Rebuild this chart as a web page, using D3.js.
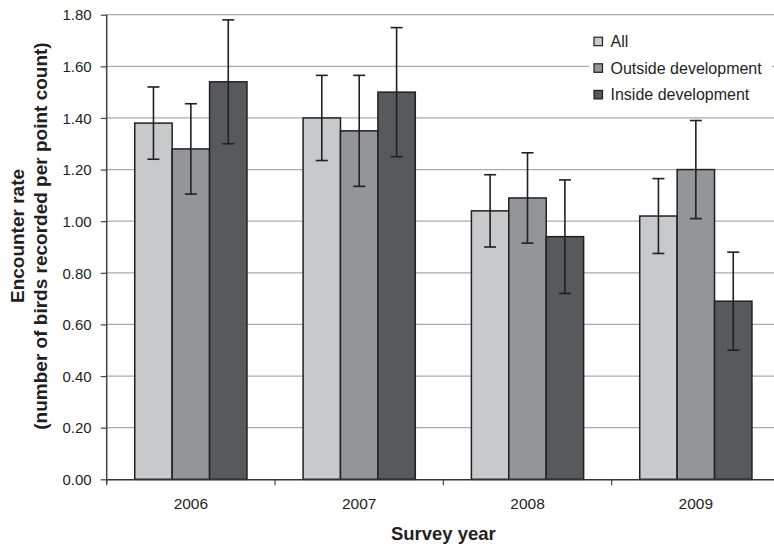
<!DOCTYPE html>
<html><head><meta charset="utf-8">
<script src="https://cdn.jsdelivr.net/npm/d3@7"></script>
<style>
html,body{margin:0;padding:0;background:#fff;}
svg{display:block;font-family:"Liberation Sans",Arial,sans-serif;}
</style></head>
<body>
<svg id="chart" width="774" height="549"></svg>
<script>
const years = ["2006","2007","2008","2009"];
const seriesNames = ["All","Outside development","Inside development"];
const allValues = [1.38,1.40,1.04,1.02];
const outsideValues = [1.28,1.35,1.09,1.20];
const insideValues = [1.54,1.50,0.94,0.69];
const allErrors = [0.14,0.165,0.14,0.145];
const outsideErrors = [0.175,0.215,0.175,0.19];
const insideErrors = [0.24,0.25,0.22,0.19];
const yTicks = [0,0.2,0.4,0.6,0.8,1.0,1.2,1.4,1.6,1.8];
const colors = ["#c8c9cb","#939598","#58595b"];

const valuesBySeries = [allValues, outsideValues, insideValues];
const errorsBySeries = [allErrors, outsideErrors, insideErrors];
const rows = [];
years.forEach((yr,i)=>seriesNames.forEach((s,j)=>rows.push({year:yr,series:s,idx:j,value:valuesBySeries[j][i],err:errorsBySeries[j][i]})));

const svg = d3.select("#chart");
const pLeft = 106.7, pRight = 780, pTop = 14.7, pBottom = 479.3;
const ink = "#231f20";

const x = d3.scaleBand().domain(years).range([pLeft,pRight]).paddingInner(0).paddingOuter(0);
const xs = d3.scaleBand().domain(seriesNames).range([0,x.bandwidth()]).paddingInner(0).paddingOuter(0.75);
const y = d3.scaleLinear().domain([0,1.8]).range([pBottom,pTop]);

// gridlines
svg.append("g").selectAll("line").data(yTicks.filter(d=>d>0)).join("line")
  .attr("x1",pLeft).attr("x2",774).attr("y1",d=>y(d)).attr("y2",d=>y(d))
  .attr("stroke","#aaaaaa").attr("stroke-width",1.2);

// bars
svg.append("g").selectAll("rect").data(rows).join("rect")
  .attr("x",d=>x(d.year)+xs(d.series))
  .attr("y",d=>y(d.value))
  .attr("width",xs.bandwidth())
  .attr("height",d=>y(0)-y(d.value))
  .attr("fill",d=>colors[d.idx])
  .attr("stroke",ink).attr("stroke-width",1.5);

// error bars
const eb = svg.append("g").attr("stroke",ink).attr("stroke-width",1.6);
rows.forEach(d=>{
  const cx = x(d.year)+xs(d.series)+xs.bandwidth()/2;
  eb.append("line").attr("x1",cx).attr("x2",cx).attr("y1",y(d.value+d.err)).attr("y2",y(d.value-d.err));
  eb.append("line").attr("x1",cx-6).attr("x2",cx+6).attr("y1",y(d.value+d.err)).attr("y2",y(d.value+d.err));
  eb.append("line").attr("x1",cx-6).attr("x2",cx+6).attr("y1",y(d.value-d.err)).attr("y2",y(d.value-d.err));
});

// y axis
const yAxis = svg.append("g").attr("transform",`translate(${pLeft},0)`)
  .call(d3.axisLeft(y).tickValues(yTicks).tickFormat(d3.format(".2f")).tickSize(6).tickPadding(9));
yAxis.select(".domain").attr("stroke","#444").attr("stroke-width",1.5).attr("d",`M0,${pTop}V${pBottom+4}`);
yAxis.selectAll(".tick line").attr("stroke","#444").attr("stroke-width",1.2);
yAxis.selectAll(".tick text").attr("fill",ink).style("font-size","15px").attr("dy","0.35em");

// x axis
const xAxis = svg.append("g").attr("transform",`translate(0,${pBottom})`)
  .call(d3.axisBottom(x).tickSize(0).tickPadding(19));
xAxis.select(".domain").attr("stroke","#333").attr("stroke-width",1.5);
xAxis.selectAll(".tick text").attr("fill",ink).style("font-size","15.5px");
svg.append("g").selectAll("line").data(years).join("line")
  .attr("x1",d=>x(d)).attr("x2",d=>x(d)).attr("y1",pBottom).attr("y2",pBottom+6)
  .attr("stroke","#444").attr("stroke-width",1.2);

// axis titles
svg.append("text").attr("x",(pLeft+pRight)/2).attr("y",540).attr("text-anchor","middle")
  .attr("fill",ink).style("font-size","18.5px").style("font-weight","bold").text("Survey year");
const yt = svg.append("text").attr("transform","translate(24,236) rotate(-90)").attr("text-anchor","middle")
  .attr("fill",ink).style("font-size","19px").style("font-weight","bold");
yt.append("tspan").attr("x",0).attr("y",0).text("Encounter rate");
yt.append("tspan").attr("x",0).attr("y",23).text("(number of birds recorded per point count)");

// legend
const lg = svg.append("g");
lg.append("rect").attr("x",589).attr("y",25).attr("width",183).attr("height",83).attr("fill","#fff");
const items = lg.selectAll("g.item").data(seriesNames).join("g").attr("class","item")
  .attr("transform",(d,i)=>`translate(594,${41.2+i*26.6})`);
items.append("rect").attr("x",0).attr("y",-4).attr("width",8.5).attr("height",8.5)
  .attr("fill",(d,i)=>colors[i]).attr("stroke",ink).attr("stroke-width",1.2);
items.append("text").attr("x",16.5).attr("y",0).attr("dy","0.36em")
  .attr("fill",ink).style("font-size","16px").text(d=>d);
</script>
</body></html>
